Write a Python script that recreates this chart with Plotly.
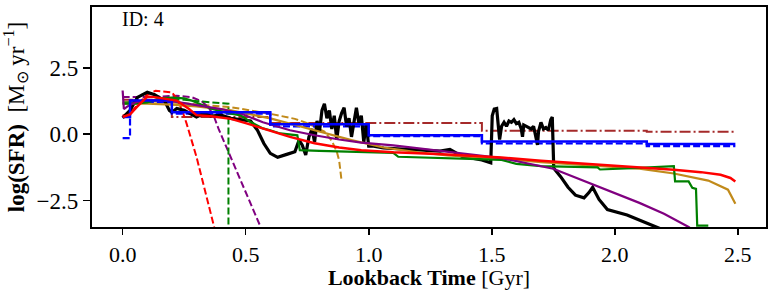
import plotly.graph_objects as go

# ---------------- data ----------------
black_t = [0.0, 0.03, 0.06, 0.10, 0.13, 0.17, 0.19, 0.20, 0.22, 0.25, 0.30, 0.33, 0.36, 0.40, 0.44, 0.48, 0.52,
           0.548, 0.574, 0.60, 0.63, 0.67, 0.70, 0.717, 0.73, 0.744, 0.757,
           0.77, 0.78, 0.79, 0.80, 0.81, 0.82, 0.83, 0.84, 0.85, 0.86, 0.87, 0.88, 0.89, 0.90, 0.91, 0.92,
           0.93, 0.94, 0.95, 0.96, 0.97, 0.98, 0.99, 1.00, 1.02, 1.06, 1.15, 1.29, 1.33, 1.38, 1.46, 1.496,
           1.502, 1.51, 1.52, 1.527, 1.532, 1.54, 1.55, 1.56, 1.57, 1.58, 1.59, 1.60, 1.61, 1.62, 1.625, 1.63,
           1.64, 1.65, 1.66, 1.67, 1.68, 1.686, 1.69, 1.70, 1.71, 1.72, 1.73, 1.74, 1.746, 1.752,
           1.78, 1.81, 1.84, 1.875, 1.895, 1.91, 1.936, 1.97, 2.05, 2.17, 2.20]
black_y = [0.62, 0.90, 1.39, 1.58, 1.49, 1.27, 0.90, 0.83, 0.97, 0.90, 0.65, 0.78, 0.68, 0.72, 0.60, 0.55, 0.50,
           0.15, -0.35, -0.72, -0.87, -0.75, -0.66, -0.22, -0.41, -0.78, -0.10,
           0.20, -0.30, 0.50, 0.10, 0.90, 1.15, 0.60, 0.90, 0.20, 0.70, -0.20, 0.50, 0.80, 1.00, 0.30, 0.60,
           -0.10, 0.50, 1.00, 0.40, 0.70, -0.30, 0.40, -0.45, -0.45, -0.52, -0.56, -0.64, -0.57, -0.84, -0.97, -1.08,
           0.70, 0.95, 0.97, 0.20, -0.20, 0.30, 0.45, 0.30, 0.50, 0.45, 0.55, 0.40, 0.45, 0.20, -0.10, 0.35,
           0.30, 0.25, 0.20, 0.30, -0.10, -0.40, 0.10, 0.45, 0.20, 0.25, 0.15, 0.55, 0.65, -1.28,
           -1.60, -2.00, -2.30, -2.40, -2.20, -2.00, -2.46, -2.84, -3.05, -3.50, -3.62]

step_edges = [0.0, 0.03, 0.20, 0.60, 1.00, 1.46, 2.13, 2.49]
blue_solid_levels = [0.65, 1.27, 0.83, 0.38, -0.04, -0.27, -0.37]
blue_dashed_levels = [-0.15, 1.20, 0.78, 0.30, -0.07, -0.35, -0.45]
brown_edges = [0.0, 0.20, 0.60, 1.46, 2.13, 2.49]
brown_levels = [1.30, 0.65, 0.42, 0.13, 0.09]

gold_t = [0.0, 0.10, 0.20, 0.30, 0.44, 0.60, 0.78, 0.93, 1.06, 1.20, 1.32, 1.54, 1.70, 1.90, 2.10, 2.24, 2.38, 2.46, 2.49]
gold_y = [1.15, 1.15, 1.12, 1.05, 0.90, 0.60, 0.15, -0.22, -0.50, -0.68, -0.80, -0.92, -1.05, -1.18, -1.30, -1.48, -1.75, -2.09, -2.62]

gold_dash_t = [0.0, 0.10, 0.20, 0.28, 0.44, 0.60, 0.70, 0.75, 0.82, 0.85, 0.87, 0.88, 0.89]
gold_dash_y = [1.20, 1.25, 1.20, 1.14, 1.02, 0.77, 0.58, 0.42, 0.10, -0.25, -0.65, -1.00, -1.78]

purple_t = [0.0, 0.005, 0.02, 0.05, 0.10, 0.20, 0.30, 0.40, 0.48, 0.57, 0.68, 0.78, 0.88, 0.97, 1.10, 1.30, 1.54, 1.75, 1.90, 2.00, 2.10, 2.20, 2.30, 2.33]
purple_y = [1.65, 0.95, 1.05, 1.20, 1.30, 1.25, 1.10, 0.95, 0.78, 0.45, 0.15, -0.04, -0.20, -0.32, -0.42, -0.65, -0.90, -1.30, -1.84, -2.20, -2.59, -3.00, -3.50, -3.70]

purple_dash_t = [0.0, 0.10, 0.22, 0.28, 0.32, 0.35, 0.37, 0.39, 0.42, 0.45, 0.51, 0.56, 0.57]
purple_dash_y = [1.40, 1.40, 1.45, 1.40, 1.25, 1.00, 0.70, 0.20, -0.45, -1.10, -2.35, -3.50, -3.70]

red_t = [0.0, 0.03, 0.06, 0.10, 0.13, 0.22, 0.27, 0.30, 0.36, 0.44, 0.50, 0.57, 0.68, 0.78, 0.88, 0.97, 1.10, 1.30, 1.54, 1.70, 1.90, 2.10, 2.24, 2.35, 2.43, 2.47, 2.49]
red_y = [0.65, 0.75, 1.05, 1.42, 1.40, 1.27, 0.95, 0.72, 0.68, 0.58, 0.42, 0.22, -0.10, -0.34, -0.50, -0.60, -0.68, -0.76, -0.88, -1.00, -1.12, -1.25, -1.34, -1.43, -1.53, -1.65, -1.78]

red_dash_t = [0.0, 0.03, 0.06, 0.10, 0.134, 0.20, 0.22, 0.24, 0.26, 0.28, 0.30, 0.33, 0.37, 0.38]
red_dash_y = [0.70, 0.80, 1.10, 1.50, 1.64, 1.58, 1.35, 0.95, 0.40, -0.20, -0.85, -1.95, -3.50, -3.80]

green_t = [0.0, 0.05, 0.10, 0.15, 0.20, 0.25, 0.28, 0.32, 0.36, 0.44, 0.48, 0.52, 0.57, 0.60, 0.64, 0.71, 0.715, 0.72, 0.80,
           0.97, 1.10, 1.12, 1.30, 1.54, 1.60, 1.70, 1.93, 1.94, 2.10, 2.24, 2.245, 2.30, 2.315, 2.33, 2.335, 2.38]
green_y = [1.15, 1.15, 1.20, 1.35, 1.38, 1.35, 1.27, 1.10, 0.96, 0.78, 0.71, 0.46, 0.22, 0.15, 0.03, -0.04, -0.34, -0.60, -0.63,
           -0.66, -0.70, -0.85, -0.90, -0.97, -1.12, -1.20, -1.25, -1.33, -1.27, -1.20, -1.78, -1.78, -2.02, -2.06, -3.45, -3.45]

green_dash_t = [0.0, 0.05, 0.15, 0.25, 0.30, 0.42, 0.43, 0.43]
green_dash_y = [1.20, 1.20, 1.30, 1.30, 1.25, 1.15, 1.15, -3.60]

x_ticks = [0.0, 0.5, 1.0, 1.5, 2.0, 2.5]
x_tick_text = ["0.0", "0.5", "1.0", "1.5", "2.0", "2.5"]
y_ticks = [-2.5, 0.0, 2.5]
y_tick_text = ["\u22122.5", "0.0", "2.5"]


def steps(edges, levels):
    xs, ys = [], []
    for i, lv in enumerate(levels):
        xs += [edges[i], edges[i + 1]]
        ys += [lv, lv]
    return xs, ys


FONT = "Liberation Serif"
DASH = "7px,3px"
DASHDOT = "11px,3px,2px,3px"
fig = go.Figure()


def add(x, y, color, width, dash="solid"):
    fig.add_trace(go.Scatter(x=x, y=y, mode="lines", line=dict(color=color, width=width, dash=dash),
                             showlegend=False, hoverinfo="skip"))


bx, by = steps(brown_edges, brown_levels)
add(bx, by, "#a52a2a", 2, DASHDOT)
add(gold_dash_t, gold_dash_y, "#c18a1a", 2, DASH)
add(purple_dash_t, purple_dash_y, "#800080", 2, DASH)
add(red_dash_t, red_dash_y, "#ff0000", 2, DASH)
add(green_dash_t, green_dash_y, "#008000", 2, DASH)
bdx, bdy = steps(step_edges, blue_dashed_levels)
add(bdx, bdy, "#0000ff", 2.2, DASH)
add(black_t, black_y, "#000000", 3.2)
add(gold_t, gold_y, "#c18a1a", 2.2)
add(green_t, green_y, "#008000", 2.2)
add(purple_t, purple_y, "#800080", 2.2)
bsx, bsy = steps(step_edges, blue_solid_levels)
add(bsx, bsy, "#0000ff", 2.5)
add(red_t, red_y, "#ff0000", 2.5)

fig.add_annotation(text="ID: 4", xref="paper", yref="paper", x=0.042, y=0.945, xanchor="left", yanchor="middle",
                   showarrow=False, font=dict(family=FONT, size=20, color="black"))

axis_common = dict(showline=True, linecolor="black", linewidth=2.2, mirror=True, ticks="outside",
                   tickwidth=1.6, tickcolor="black", showgrid=False, zeroline=False)

fig.update_layout(
    width=774, height=290,
    margin=dict(l=92, r=8, t=5, b=62),
    paper_bgcolor="white", plot_bgcolor="white",
    xaxis=dict(range=[-0.1245, 2.6145], tickvals=x_ticks, ticktext=x_tick_text, ticklen=6,
               tickfont=dict(family=FONT, size=22, color="black"),
               title=dict(text="<b>Lookback Time</b> [Gyr]", font=dict(family=FONT, size=22, color="black"), standoff=3),
               **axis_common),
    yaxis=dict(range=[-3.5, 4.8], tickvals=y_ticks, ticktext=y_tick_text, ticklen=7,
               tickfont=dict(family=FONT, size=23, color="black"),
               title=dict(text="<b>log(SFR)</b>  [M<sub>\u2299</sub> yr<sup>\u22121</sup>]",
                          font=dict(family=FONT, size=23, color="black"), standoff=6),
               **axis_common),
)

fig.write_html("out.html", config={"displayModeBar": False, "staticPlot": True},
               post_script="document.body.style.margin='0';document.body.style.padding='0';"
                           "document.documentElement.style.overflow='hidden';")
